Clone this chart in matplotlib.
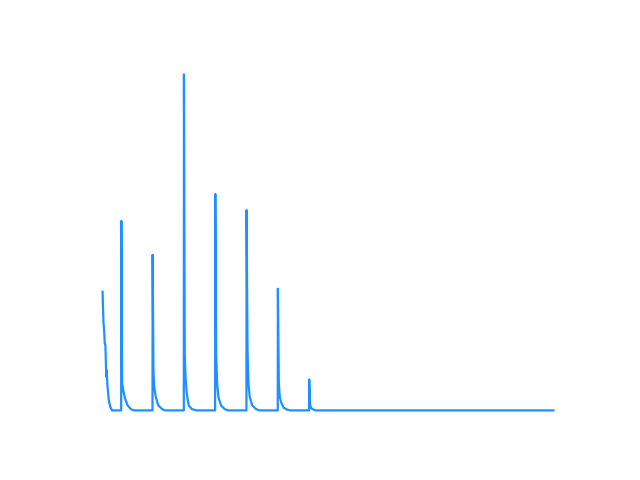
import matplotlib
matplotlib.use("Agg")
import matplotlib.pyplot as plt

# time (days) and level (relative units)
time = [0.0, 0.03, 0.05, 0.07, 0.09, 0.12, 0.13, 0.16, 0.2, 0.25, 0.3,
        0.595, 0.6, 0.625, 0.66, 0.72, 0.8, 0.9, 1.0,
        1.595, 1.6, 1.625, 1.65, 1.7, 1.78, 1.9, 2.0,
        2.595, 2.6, 2.625, 2.65, 2.69, 2.75, 2.85, 3.0,
        3.595, 3.6, 3.63, 3.66, 3.7, 3.78, 3.9, 4.0,
        4.595, 4.6, 4.63, 4.66, 4.7, 4.78, 4.9, 5.0,
        5.595, 5.6, 5.63, 5.66, 5.7, 5.78, 5.9, 6.0,
        6.595, 6.6, 6.63, 6.66, 6.7, 6.8,
        14.4]
level = [35.3, 26.0, 24.0, 20.0, 19.5, 10.0, 12.0, 7.0, 3.0, 1.0, 0.0,
         0.0, 56.4, 8.0, 6.0, 3.5, 1.5, 0.4, 0.0,
         0.0, 46.3, 12.0, 7.0, 4.0, 1.5, 0.4, 0.0,
         0.0, 100.0, 17.0, 10.0, 5.0, 1.5, 0.4, 0.0,
         0.0, 64.4, 16.0, 8.0, 4.0, 1.5, 0.4, 0.0,
         0.0, 59.6, 18.0, 8.0, 4.0, 1.5, 0.4, 0.0,
         0.0, 36.2, 8.0, 4.0, 2.5, 0.8, 0.2, 0.0,
         0.0, 9.2, 1.5, 0.8, 0.4, 0.0,
         0.0]

fig, ax = plt.subplots(figsize=(6.4, 4.8), dpi=100)
ax.plot(time, level, color="#1E90FF", linewidth=1.6)
ax.axis("off")
fig.savefig("out.png", dpi=100)
